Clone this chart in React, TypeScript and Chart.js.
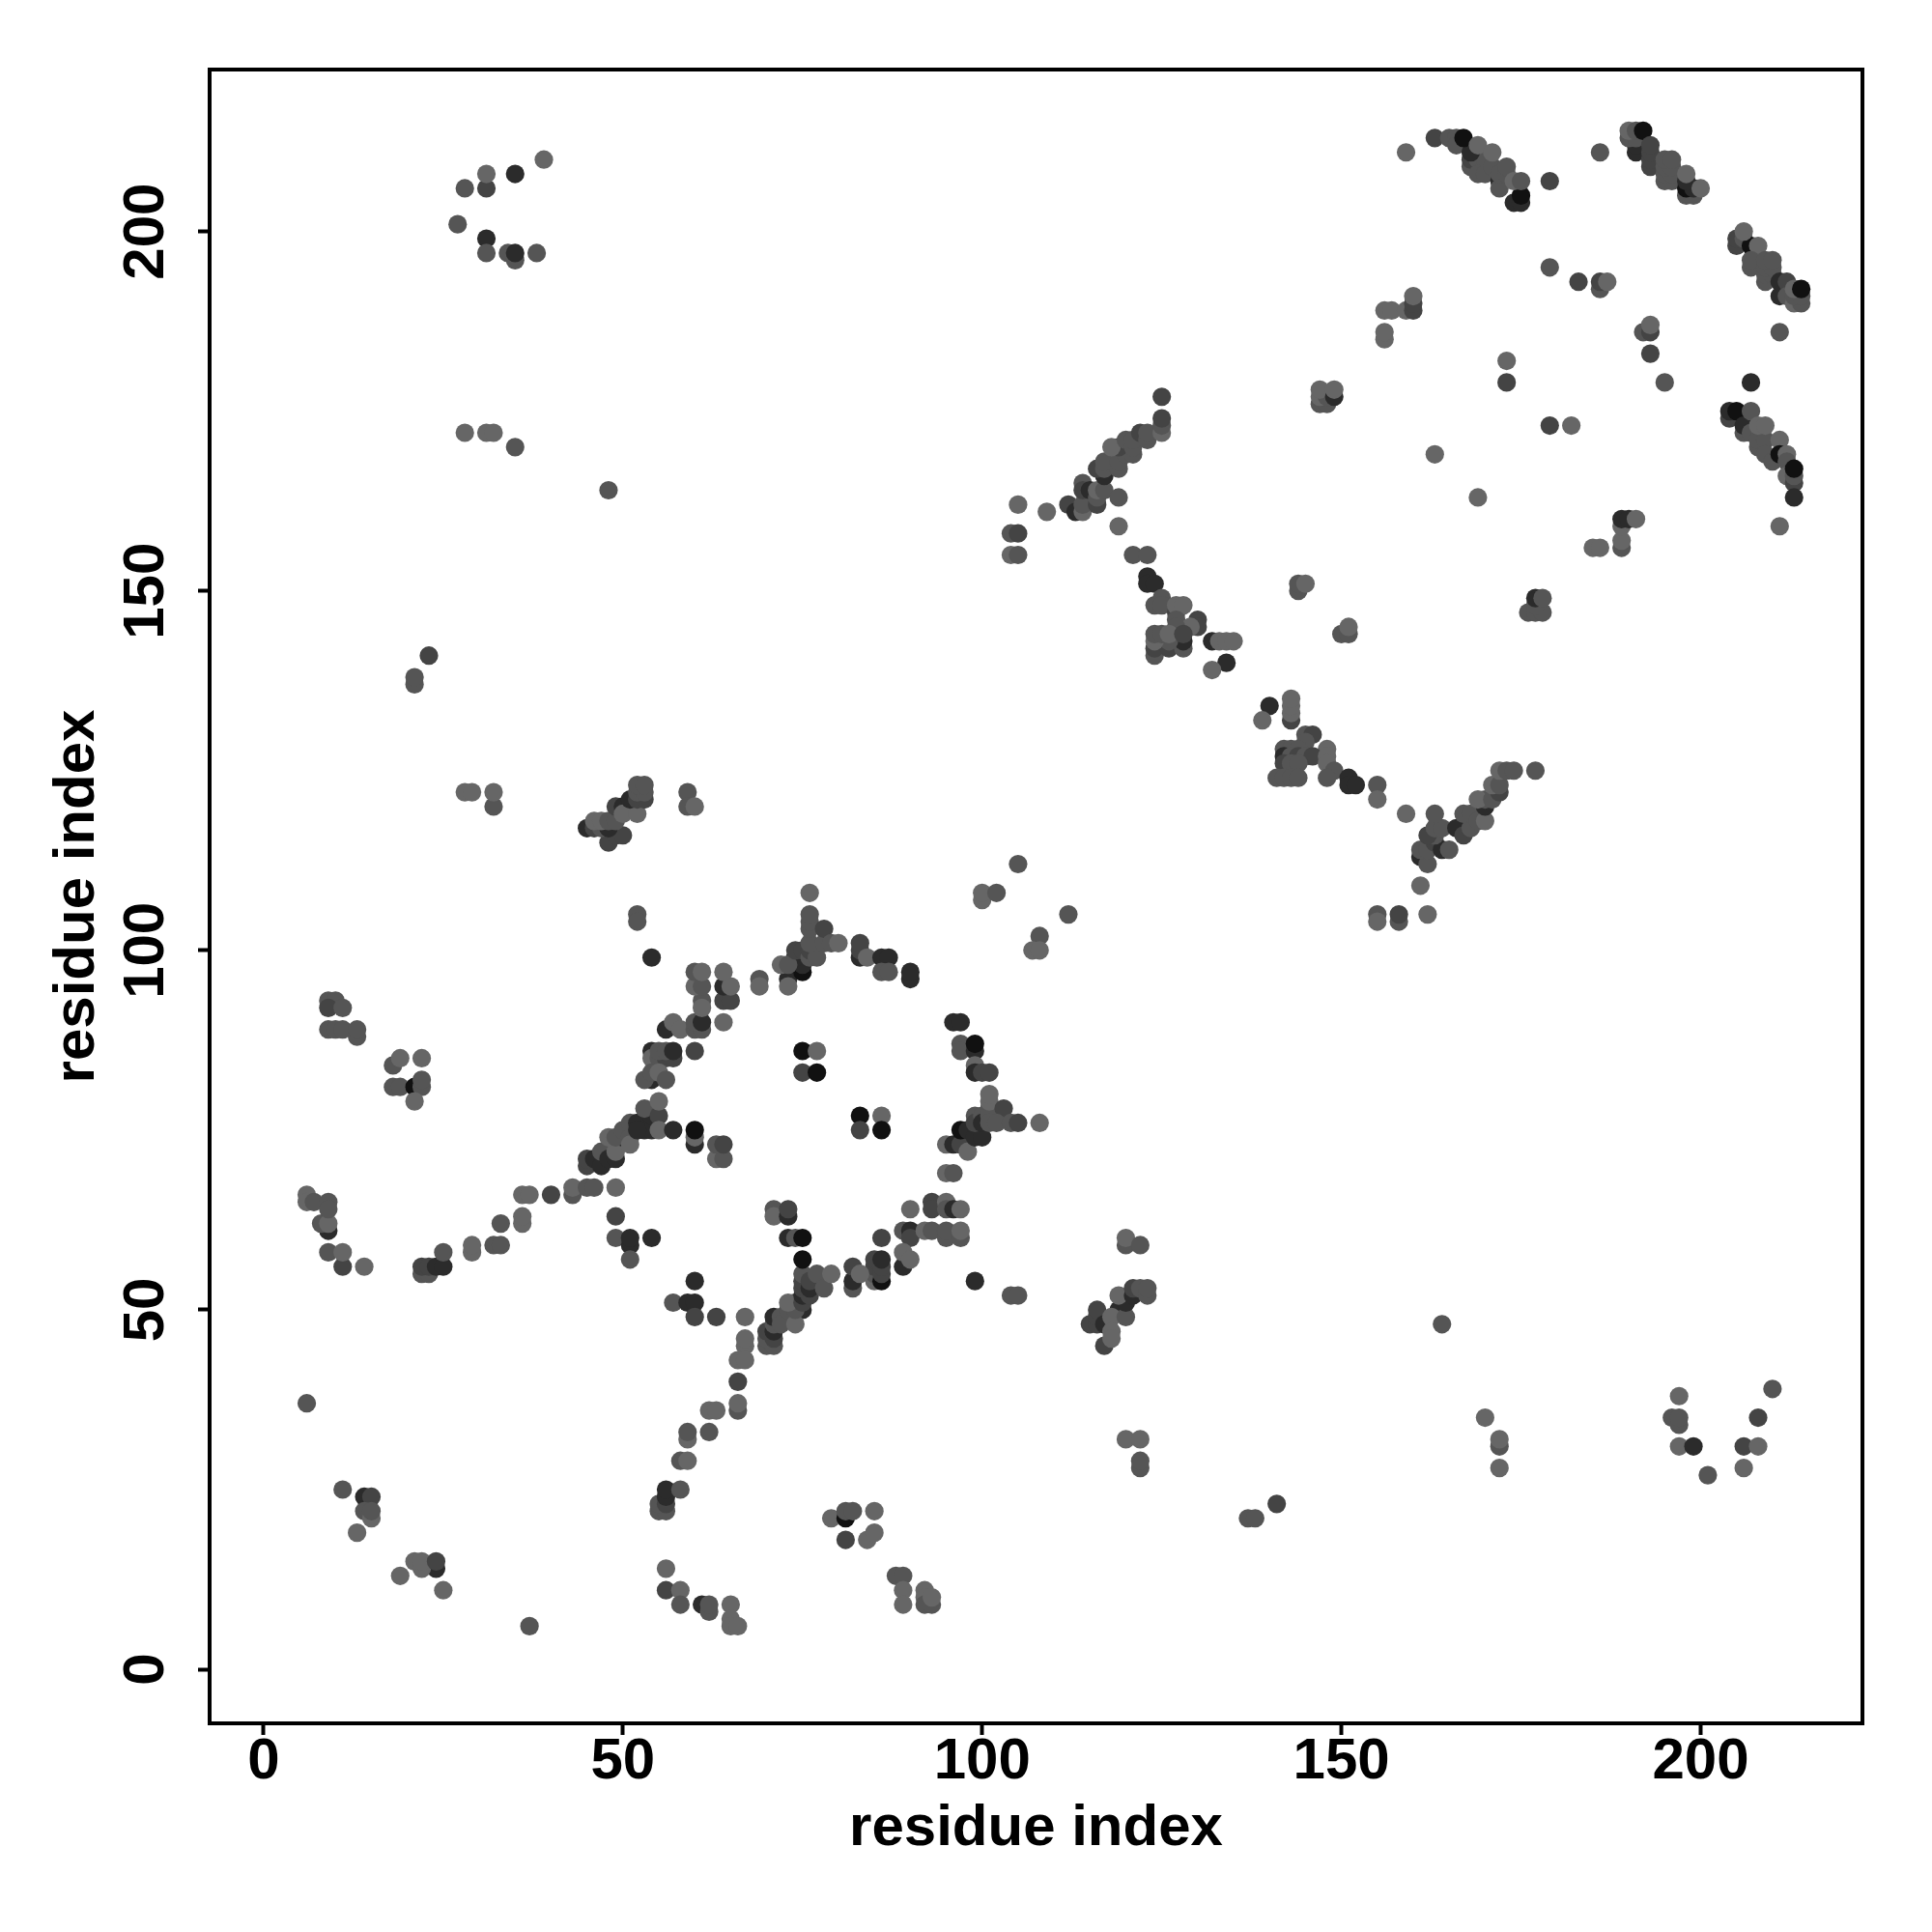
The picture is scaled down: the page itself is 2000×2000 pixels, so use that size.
import React, { useEffect, useRef } from "react";
import { Chart, registerables } from "chart.js";

Chart.register(...registerables);

// Each contact: [residue x, residue y, shade index into greyShades]
type Contact = [number, number, number];
const L = 0, M = 1, D = 2, K = 3, V = 4;
const greyShades = ["#666666", "#555555", "#444444", "#2b2b2b", "#111111"];
const tickValues = [0, 50, 100, 150, 200];
const axisLabel = "residue index";

const bottomLeft: Contact[] = [
  [6,37,M],[11,25,M],[14,24,K],[15,24,D],[14,22,M],[15,21,L],[15,22,M],[13,19,L],[19,13,L],
  [21,15,L],[24,14,K],[22,14,L],[22,15,L],[24,15,D],[25,11,L],[37,6,M],
  [56,14,L],[56,11,D],[58,11,L],[58,9,M],[61,9,K],[62,8,M],[62,9,M],[65,9,L],[65,7,L],[65,6,L],[66,6,L],
];
const leftEdge: Contact[] = [
  [9,93,M],[10,93,M],[9,92,D],[11,92,M],[9,89,M],[10,89,M],[11,89,M],[13,88,M],[13,89,M],
  [18,84,M],[19,85,L],[22,85,L],[18,81,M],[19,81,M],[21,81,V],[22,81,M],[22,82,M],[21,79,L],
  [6,66,L],[6,65,L],[7,65,M],[9,65,M],[9,61,K],[8,62,M],[9,62,L],[9,64,M],
  [9,58,M],[11,56,D],[11,58,L],[14,56,L],
  [22,55,M],[23,55,M],[22,56,D],[23,56,D],[24,56,K],[25,56,K],[25,58,M],
  [29,58,L],[29,59,L],[32,59,M],[33,59,M],[33,62,M],[36,62,L],[36,63,L],[36,66,L],[37,66,L],
];
const topLeft: Contact[] = [
  [39,210,L],[31,206,D],[31,208,L],[35,208,K],[28,206,M],[27,201,M],[31,199,K],[31,197,M],
  [34,197,M],[35,196,M],[35,197,K],[38,197,M],
  [28,172,L],[31,172,L],[32,172,L],[35,170,M],[48,164,M],
  [23,141,D],[21,137,M],[21,138,M],[28,122,L],[29,122,L],[32,120,M],[32,122,L],
];
const upperStrand: Contact[] = [
  [48,115,D],[49,116,D],[50,116,D],[45,117,K],[46,117,D],[47,117,M],[48,117,K],[46,118,L],[47,118,L],[48,118,M],[49,118,M],
  [49,120,D],[51,120,K],[50,120,K],[50,119,L],[52,119,L],[51,121,K],[52,121,D],[53,121,D],
  [52,122,M],[53,122,M],[52,123,M],[53,123,M],
  [59,122,M],[59,120,M],[60,120,L],
];
const leftCurve: Contact[] = [
  [40,66,D],[43,66,M],[43,67,L],[45,67,M],[46,67,M],[49,67,L],[49,63,D],
  [45,70,D],[45,71,D],[46,71,K],[47,70,K],[47,72,M],[48,71,K],[49,71,K],[49,72,L],
  [50,74,V],[48,74,L],[49,74,M],[50,75,M],[51,74,M],[51,73,L],[51,76,M],[52,76,K],[53,75,K],[54,75,K],
  [52,75,K],[54,77,K],[53,78,M],[55,77,D],[55,75,L],[55,79,L],[57,75,K],
  [60,73,K],[60,74,L],[60,75,V],[63,71,L],[64,71,M],[63,73,M],[64,73,D],
];
const upperLeftArc: Contact[] = [
  [54,86,K],[54,85,L],[55,85,M],[56,85,D],[57,85,D],[55,86,M],[56,86,M],[57,86,K],[60,86,D],
  [54,82,K],[53,82,M],[54,83,M],[55,83,L],[56,82,M],
  [56,89,K],[57,90,L],[58,89,L],[60,89,M],[61,89,M],[60,90,M],[61,90,K],[64,90,L],
  [61,93,M],[61,92,L],[64,93,D],[65,93,D],[64,95,K],[65,95,L],
  [60,95,L],[61,95,M],[60,97,M],[61,97,L],[64,97,L],
  [69,96,M],[69,95,L],[52,105,M],[52,104,M],[54,99,K],
];
const topArc: Contact[] = [
  [73,96,K],[73,95,L],[75,97,V],[75,98,K],[74,99,K],[72,98,L],[73,98,M],[74,100,D],[75,100,D],
  [76,99,M],[76,100,D],[77,99,M],[76,101,M],[76,103,M],[76,104,M],[76,105,M],[78,101,M],[78,103,D],
  [79,101,M],[80,101,L],[76,108,L],
  [83,99,K],[83,100,D],[83,101,D],[84,99,L],[86,99,K],[87,99,K],[86,97,M],[87,97,M],[90,96,K],[90,97,K],
];
const centrePairs: Contact[] = [
  [75,86,V],[77,86,L],[75,83,D],[77,83,V],[83,77,V],[86,77,L],[83,75,D],[86,75,V],
];
const rightArc: Contact[] = [
  [96,90,K],[97,90,K],[97,87,M],[97,86,M],[99,86,K],[99,87,V],[99,84,L],[99,83,K],[100,83,D],[101,83,D],
  [95,73,L],[96,73,K],[97,73,D],[98,72,L],[97,75,V],[98,75,K],[99,74,K],[100,74,K],
  [99,77,M],[99,76,D],[100,77,M],[100,76,K],[101,77,M],[101,78,M],[101,79,L],[101,80,L],[103,78,D],
  [101,76,M],[102,76,M],[104,76,M],[105,76,D],[108,76,L],
  [95,69,L],[96,69,M],
];
const lowerRightArc: Contact[] = [
  [90,64,L],[93,65,D],[93,64,D],[95,65,L],[95,64,M],[96,64,K],[97,64,L],
  [89,61,M],[90,61,K],[90,60,D],[92,61,L],[93,61,M],[95,60,M],[95,61,M],[97,60,M],[97,61,L],
  [86,60,D],[89,56,K],[89,58,L],[90,57,L],
  [85,54,L],[85,55,M],[85,56,D],[85,57,D],[86,54,V],[86,55,D],[86,56,D],[86,57,K],
  [82,53,M],[82,54,K],[82,56,D],[83,55,L],
];
const lowerCurve: Contact[] = [
  [70,45,M],[71,45,M],[70,46,M],[71,46,D],[70,47,D],[71,47,K],[71,48,M],[71,49,K],[72,49,M],[72,48,M],
  [74,51,K],[75,50,K],[73,50,M],[74,48,L],[74,50,M],[73,51,L],[75,51,D],[75,52,K],[75,53,D],[75,54,D],[75,55,M],
  [76,52,D],[76,53,K],[76,54,D],[77,55,M],[78,53,M],[79,55,L],[75,57,V],
  [73,60,K],[74,60,M],[75,60,V],[71,64,M],[71,63,L],[73,63,K],[73,64,D],
];
const midLowerStrand: Contact[] = [
  [49,60,M],[51,59,K],[51,60,K],[51,57,M],[54,60,K],[60,54,K],[57,51,M],[59,51,K],[60,51,K],[60,49,D],
  [63,49,D],[67,49,L],[67,45,L],[67,46,L],[66,43,L],[67,43,L],[66,40,D],[66,36,M],[66,37,L],
  [62,36,L],[63,36,L],[62,33,M],[59,32,L],[59,33,M],[58,29,M],[59,29,L],
  [55,22,M],[56,22,M],[55,23,M],[56,23,D],[56,24,K],[56,25,K],[58,25,M],
];
const lowerGroups: Contact[] = [
  [79,21,L],[81,21,V],[81,22,M],[82,22,M],[81,18,D],[84,18,L],[85,19,L],[85,22,L],
  [88,13,M],[89,13,M],[89,11,L],[89,9,L],[92,11,L],[92,10,L],[92,9,M],[93,9,M],[93,10,L],
  [99,54,K],[104,52,M],[105,52,M],[100,107,L],[100,108,L],[102,108,M],[105,112,M],[112,105,M],
  [108,102,M],[107,100,L],[108,100,L],
];
const middleBlob: Contact[] = [
  [117,45,D],[115,48,D],[116,48,D],[116,49,D],[116,50,D],[117,48,K],[119,50,K],[118,49,L],[118,47,L],[118,46,L],
  [120,49,M],[120,51,K],[119,52,L],[121,52,K],[121,53,D],[122,53,M],[123,52,M],[123,53,M],
  [120,59,M],[120,60,L],[122,59,M],[120,32,L],[122,32,L],[122,28,M],[122,29,M],
];
const lowerRightScatter: Contact[] = [
  [164,48,M],[170,35,L],[172,31,M],[172,32,L],[172,28,L],[196,35,M],[197,34,M],[197,35,M],[197,38,L],
  [197,31,L],[199,31,K],[201,27,M],[206,31,D],[206,28,L],[208,31,L],[208,35,D],[210,39,M],
  [137,21,M],[138,21,M],[141,23,D],
];
const centreDiagonalLow: Contact[] = [
  [155,105,M],[155,104,L],[158,104,M],[158,105,D],[162,105,L],[161,109,L],
  [161,113,K],[162,112,M],[161,114,M],[162,114,M],[163,115,D],[164,114,K],[165,114,M],[163,116,M],[162,116,D],
  [163,117,M],[164,117,M],[163,119,M],[159,119,L],
  [166,117,K],[167,116,D],[168,117,M],[167,119,M],[168,119,M],[169,118,M],[170,118,L],
  [170,120,K],[170,121,M],[169,121,L],[171,121,M],[172,122,D],[171,123,L],[172,123,M],
  [172,125,L],[173,125,M],[174,125,M],[177,125,M],
];
const centreCluster: Contact[] = [
  [140,134,K],[139,132,L],[143,132,D],[143,133,L],[143,134,L],[143,135,L],
  [145,130,M],[146,130,D],[145,129,M],[142,128,M],[143,128,M],[144,128,M],[148,128,L],
  [142,127,K],[143,127,M],[144,127,D],[145,127,M],[146,127,D],[148,127,L],[142,126,D],[143,126,M],[144,126,M],[148,126,L],
  [149,125,M],[148,124,M],[141,124,M],[142,124,M],[143,124,M],[144,124,M],
  [151,124,K],[151,123,K],[152,123,K],[155,123,M],[155,121,L],
];
const centreUpper: Contact[] = [
  [104,155,L],[105,155,M],[104,158,M],[105,158,D],[105,162,L],[109,161,L],[112,162,D],[113,161,K],[114,161,L],
  [114,162,M],[114,165,M],[114,164,D],[115,164,K],[116,162,D],[116,163,M],[116,164,L],[117,164,M],[119,163,M],[119,159,L],
  [117,166,K],[116,167,D],[117,167,M],[119,167,M],[117,168,M],[119,168,M],[120,169,M],[121,169,M],[119,170,D],[118,170,L],
  [120,171,M],[121,170,M],[121,171,M],[122,172,D],[123,171,M],[123,172,M],[125,172,L],[125,173,M],[125,174,D],[125,177,D],
];
const centreLower: Contact[] = [
  [121,155,M],[123,155,M],[123,152,K],[123,151,K],[124,151,K],
  [125,149,M],[124,148,M],[125,148,M],[127,147,D],[127,148,L],[128,148,L],[127,146,M],[130,146,D],[130,145,D],[129,145,L],
  [127,145,M],[124,141,M],[124,142,D],[126,142,D],[128,142,M],[128,143,K],[126,143,M],[124,143,L],[124,144,M],[125,144,M],
  [126,144,L],[128,144,D],[132,143,K],[133,143,L],[134,143,L],[135,143,L],[134,140,K],[132,139,L],
];
const centreRightScatter: Contact[] = [
  [144,150,M],[144,151,M],[145,151,L],[150,144,M],[151,144,M],[151,145,L],
  [147,176,M],[148,176,M],[147,177,L],[148,177,M],[147,178,L],[149,177,K],[149,178,L],
  [156,185,L],[156,186,L],[156,189,L],[157,189,L],[159,189,L],[160,189,D],[160,190,D],[160,191,L],
  [159,211,L],[163,169,L],[169,163,L],[173,179,D],[173,182,L],[179,173,D],[182,173,L],
  [176,147,M],[177,147,M],[178,147,M],[177,148,M],[177,149,K],[178,149,M],
  [185,156,L],[186,156,L],[189,156,M],[189,157,L],[189,159,L],[189,160,K],[190,160,K],[191,160,L],
  [179,195,M],[179,207,D],[183,193,D],[186,192,M],[186,193,D],[187,193,L],[186,211,M],
  [192,186,M],[193,186,D],[193,187,L],[193,183,D],[195,179,M],[207,179,K],[211,186,M],[211,159,L],
];
const topDiagonalA: Contact[] = [
  [163,213,D],[165,213,M],[166,213,M],[166,212,M],[168,209,M],[169,209,M],[168,210,D],[169,210,M],[170,210,M],[168,211,K],[167,213,V],
  [169,208,M],[170,208,M],[169,212,L],[171,209,M],[171,211,L],[172,207,K],[172,206,M],[172,208,M],[173,208,M],[173,209,M],
  [174,204,K],[175,204,K],[175,205,V],[174,207,L],[175,207,M],
];
const topDiagonalB: Contact[] = [
  [191,211,K],[191,212,K],[190,213,M],[191,213,M],[190,214,L],[191,214,M],[192,214,V],
  [193,209,D],[193,210,D],[193,211,D],[193,212,D],
  [195,207,M],[196,207,M],[195,208,M],[196,208,M],[195,209,M],[196,209,M],[195,210,M],[196,210,M],
  [198,205,M],[199,205,M],[198,206,V],[199,206,K],[198,207,K],[198,208,L],[200,206,L],
];
const topDiagonalC: Contact[] = [
  [205,198,D],[205,199,D],[206,199,M],[207,198,V],[206,200,L],[208,198,L],
  [207,195,M],[207,196,M],[209,193,M],[209,194,M],[210,194,M],[209,195,M],[210,195,M],[209,196,M],[210,196,M],
  [211,191,K],[211,193,K],[212,193,D],[212,191,M],[213,190,L],[214,190,M],[213,191,M],[214,191,M],[213,192,L],[214,192,V],
];
const topDiagonalD: Contact[] = [
  [204,174,D],[204,175,K],[205,175,V],[206,172,M],[206,173,K],[207,172,M],[207,175,M],[208,170,M],
  [208,171,M],[209,171,M],[208,173,L],[209,173,L],[209,169,M],[210,168,M],[211,171,L],[211,169,V],[212,169,L],
  [212,168,M],[212,166,L],[213,165,D],[213,166,M],[213,167,V],[213,163,K],
];

const allContacts: Contact[] = [
  ...bottomLeft, ...leftEdge, ...topLeft, ...upperStrand, ...leftCurve, ...upperLeftArc, ...topArc,
  ...centrePairs, ...rightArc, ...lowerRightArc, ...lowerCurve, ...midLowerStrand, ...lowerGroups,
  ...middleBlob, ...lowerRightScatter, ...centreDiagonalLow, ...centreCluster, ...centreUpper,
  ...centreLower, ...centreRightScatter, ...topDiagonalA, ...topDiagonalB, ...topDiagonalC, ...topDiagonalD,
];

const FONT = { family: "'Liberation Sans', Arial, sans-serif", size: 60, weight: "bold" as const };

const frame = {
  id: "frame",
  afterDraw(chart: any) {
    const { ctx, chartArea: a } = chart;
    ctx.save();
    ctx.strokeStyle = "#000";
    ctx.lineWidth = 4;
    ctx.strokeRect(a.left, a.top, a.right - a.left, a.bottom - a.top);
    ctx.restore();
  },
};

const axisBase = () => ({
  type: "linear" as const,
  min: -7.52,
  max: 222.52,
  afterBuildTicks: (s: any) => {
    s.ticks = tickValues.map((value) => ({ value }));
  },
  grid: { display: true, drawOnChartArea: false, drawTicks: true, tickLength: 12, tickWidth: 4, tickColor: "#000" },
  border: { display: false },
});

export default function App() {
  const ref = useRef<HTMLCanvasElement>(null);
  useEffect(() => {
    document.body.style.margin = "0";
    const chart = new Chart(ref.current!, {
      type: "scatter",
      data: {
        datasets: [
          {
            data: allContacts.map(([x, y]) => ({ x, y })),
            pointRadius: 9.6,
            pointBorderWidth: 0,
            pointBackgroundColor: allContacts.map((c) => greyShades[c[2]]),
          },
        ],
      },
      options: {
        responsive: false,
        animation: false,
        devicePixelRatio: 1,
        layout: { padding: { left: 0, top: 72, right: 72, bottom: 0 } },
        plugins: { legend: { display: false }, tooltip: { enabled: false } },
        scales: {
          x: {
            ...axisBase(),
            afterFit: (s: any) => { s.height = 216; },
            ticks: { color: "#000", font: FONT, padding: -8, maxRotation: 0, autoSkip: false, includeBounds: false },
            title: { display: true, text: axisLabel, color: "#000", font: FONT, padding: { top: 0, bottom: 71 } },
          },
          y: {
            ...axisBase(),
            afterFit: (s: any) => { s.width = 217; },
            ticks: {
              color: "#000", font: FONT, padding: 2, minRotation: 90, maxRotation: 90,
              crossAlign: "center", autoSkip: false, includeBounds: false,
            },
            title: { display: true, text: axisLabel, color: "#000", font: FONT, padding: { top: 44, bottom: 0 } },
          },
        },
      } as any,
      plugins: [frame],
    });
    return () => chart.destroy();
  }, []);
  return <canvas ref={ref} width={2000} height={2000} style={{ display: "block", width: 2000, height: 2000 }} />;
}
